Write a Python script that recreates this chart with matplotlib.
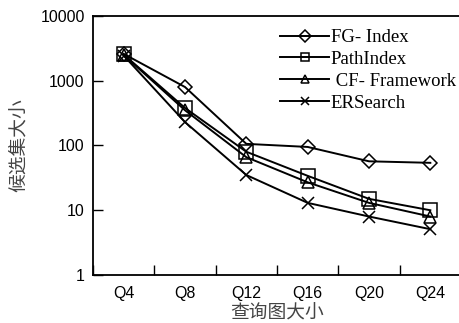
import numpy as np
import matplotlib
matplotlib.use("Agg")
import matplotlib.pyplot as plt

queries = ["Q4", "Q8", "Q12", "Q16", "Q20", "Q24"]
fg_index = [2600, 800, 106, 95, 57, 54]
path_index = [2550, 380, 80, 34, 15, 10]
cf_framework = [2500, 350, 66, 27, 13, 8]
er_search = [2450, 230, 35, 13, 8, 5.1]

series = [
    ("FG- Index", fg_index, "D", 7.5),
    ("PathIndex", path_index, "s", 9.5),
    (" CF- Framework", cf_framework, "^", 8.5),
    ("ERSearch", er_search, "x", 8.5),
]

cjk = ["Noto Sans CJK SC", "DejaVu Sans"]

fig = plt.figure(figsize=(4.6, 3.23), dpi=100)
ax = fig.add_axes([93 / 460, 1 - 275 / 323, 368 / 460, 259 / 323])

x = np.arange(len(queries))
for name, vals, mk, ms in series:
    ax.plot(x, vals, color="black", lw=1.4, marker=mk, markersize=ms,
            fillstyle="none", markeredgewidth=1.1, label=name)

ax.set_yscale("log")
ax.set_ylim(1, 10000)
ax.set_xlim(-0.5, len(queries) - 0.5)
ax.set_yticks([1, 10, 100, 1000, 10000])
ax.set_yticklabels(["1", "10", "100", "1000", "10000"])
ax.yaxis.set_minor_locator(matplotlib.ticker.NullLocator())

# category boundaries carry the tick marks, labels sit at the centres
ax.set_xticks(np.arange(len(queries) + 1) - 0.5)
ax.set_xticklabels([])
ax.set_xticks(x, minor=True)
ax.set_xticklabels(queries, minor=True)
ax.tick_params(axis="x", which="minor", length=0, pad=8)
ax.tick_params(axis="x", which="major", direction="in", length=7, width=1)
ax.tick_params(axis="y", direction="in", length=7, width=1, pad=6)
for lab in ax.get_xticklabels(minor=True) + ax.get_yticklabels():
    lab.set_fontfamily("Liberation Sans")
    lab.set_fontsize(11.5)

for s in ["left", "bottom", "top"]:
    ax.spines[s].set_linewidth(1.3)
ax.spines["right"].set_visible(False)

ax.set_xlabel("查询图大小", family=cjk, fontsize=13.5, color="#444444", labelpad=1)
ax.set_ylabel("候选集大小", family=cjk, fontsize=13.5, color="#444444", labelpad=8)

leg = ax.legend(loc="upper right", bbox_to_anchor=(1.022, 1.0), frameon=False,
                prop={"family": "Liberation Serif", "size": 13.5},
                handlelength=2.6, handletextpad=0.1, labelspacing=0.25,
                borderaxespad=0.3)
for h in leg.legend_handles:
    h.set_markersize(6)

fig.savefig("out.png", dpi=100)
